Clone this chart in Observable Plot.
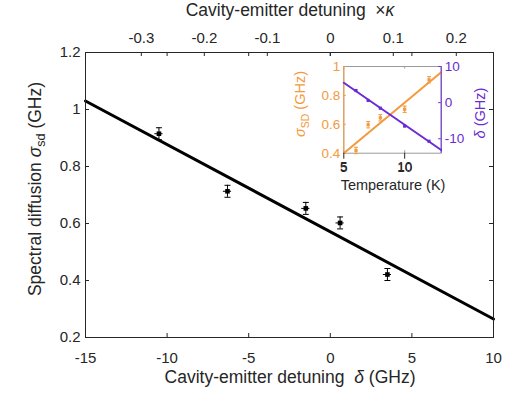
<!DOCTYPE html>
<html><head><meta charset="utf-8">
<script src="https://cdn.jsdelivr.net/npm/d3@7"></script>
<script src="https://cdn.jsdelivr.net/npm/@observablehq/plot@0.6"></script>
<style>
html,body{margin:0;padding:0;background:#fff;}
#wrap{position:relative;width:532px;height:394px;overflow:hidden;}
#wrap svg{position:absolute;max-width:none;}
</style></head><body><div id="wrap"></div>
<script>
// ---- data ----
const detuning = [-10.5, -6.3, -1.5, 0.6, 3.5];          // GHz
const sigmaSD = [0.915, 0.713, 0.653, 0.602, 0.421];      // GHz
const sigmaErr = [0.021, 0.021, 0.021, 0.021, 0.021];
const detuningErr = [0.25, 0.25, 0.25, 0.25, 0.25];
const fitDetuning = [-15, 10];
const fitSigma = [1.03, 0.265];
const kappaGHz = 38.6;
const xTicks = [-15, -10, -5, 0, 5, 10];
const yTicks = [0.2, 0.4, 0.6, 0.8, 1, 1.2];
const kappaTicks = [-0.3, -0.2, -0.1, 0, 0.1, 0.2];

const temperature = [6, 7, 8, 10, 12];                    // K
const sigmaT = [0.419, 0.597, 0.645, 0.704, 0.908];
const sigmaTErr = [0.022, 0.022, 0.022, 0.022, 0.022];
const deltaT = [3.35, 0.6, -1.55, -6.5, -10.7];
const fitTemp = [5, 13];
const fitSigmaT = [0.40, 0.96];
const fitDeltaT = [5.5, -13.1];
const tTicks = [5, 10];
const sTicks = [0.4, 0.6, 0.8, 1];
const dTicks = [-10, 0, 10];

// ---- style ----
const FONT = "'Liberation Sans', Arial, Helvetica, sans-serif";
const AX = "#262626";
const orange = "#F39A3C";
const purple = "#6A2BD3";
const wrap = document.getElementById("wrap");

const W = 532, H = 394, mL = 85, mR = 39, mT = 52, mB = 57;
const innerW = W - mL - mR, innerH = H - mT - mB, tk = 4;

const pts = detuning.map((x, i) => ({x, y: sigmaSD[i], ey: sigmaErr[i], ex: detuningErr[i]}));
const fit = fitDetuning.map((x, i) => ({x, y: fitSigma[i]}));
const kTicksGHz = kappaTicks.map(k => k * kappaGHz);
const capSym = {draw(ctx, size) { const r = Math.sqrt(size / Math.PI); ctx.moveTo(-r, 0); ctx.lineTo(r, 0); }};
const fmt = d => { const v = Math.round(d * 100) / 100; return String(v); };

const main = Plot.plot({
  width: W, height: H, marginLeft: mL, marginRight: mR, marginTop: mT, marginBottom: mB,
  style: {fontFamily: FONT, fontSize: "15px", color: AX, background: "transparent", overflow: "visible"},
  x: {domain: [-15, 10], label: null},
  y: {domain: [0.2, 1.2], label: null},
  marks: [
    Plot.ruleX(xTicks, {insetTop: innerH - tk, stroke: AX}),
    Plot.ruleX(xTicks, {insetBottom: innerH - tk, stroke: AX}),
    Plot.ruleX(kTicksGHz, {insetBottom: innerH - tk, stroke: AX}),
    Plot.ruleY(yTicks, {insetRight: innerW - tk, stroke: AX}),
    Plot.ruleY(yTicks, {insetLeft: innerW - tk, stroke: AX}),
    Plot.axisX(xTicks, {anchor: "bottom", tickSize: 0, tickPadding: 14.5, tickFormat: fmt, label: null, fill: AX}),
    Plot.axisX(kTicksGHz, {anchor: "top", tickSize: 0, tickPadding: 9.3, tickFormat: d => fmt(d / kappaGHz), label: null, fill: AX}),
    Plot.axisY(yTicks, {anchor: "left", tickSize: 0, tickPadding: 5, tickFormat: fmt, label: null, fill: AX}),
    Plot.line(fit, {x: "x", y: "y", stroke: "black", strokeWidth: 3}),
    Plot.ruleX(pts, {x: "x", y1: d => d.y - d.ey, y2: d => d.y + d.ey, stroke: "black", strokeWidth: 1}),
    Plot.ruleY(pts, {y: "y", x1: d => d.x - d.ex, x2: d => d.x + d.ex, stroke: "black", strokeWidth: 1}),
    Plot.dot(pts, {x: "x", y: d => d.y + d.ey, symbol: capSym, r: 3, stroke: "black", strokeWidth: 1}),
    Plot.dot(pts, {x: "x", y: d => d.y - d.ey, symbol: capSym, r: 3, stroke: "black", strokeWidth: 1}),
    Plot.dot(pts, {x: "x", y: "y", r: 2.6, fill: "black", symbol: "square"}),
    Plot.frame({stroke: AX})
  ]
});
main.style.left = "0px"; main.style.top = "0px";
wrap.appendChild(main);

function addText(svg, {x, y, rotate = 0, size, fill, parts}) {
  const t = d3.select(svg).append("text")
    .attr("transform", `translate(${x},${y}) rotate(${rotate})`)
    .attr("text-anchor", "middle").attr("font-size", size).attr("fill", fill)
    .attr("font-family", FONT);
  for (const p of parts) {
    const s = t.append("tspan").text(p.t);
    if (p.i) s.attr("font-style", "italic");
    if (p.sub) s.attr("font-size", size * 0.72).attr("dy", size * 0.25);
    if (p.unsub) s.attr("dy", -size * 0.25);
  }
}
addText(main, {x: 290, y: 382.5, size: 17.5, fill: AX, parts: [
  {t: "Cavity-emitter detuning  "}, {t: "δ", i: true}, {t: " (GHz)"}]});
addText(main, {x: 290, y: 16, size: 17.5, fill: AX, parts: [
  {t: "Cavity-emitter detuning  ×"}, {t: "κ", i: true}]});
addText(main, {x: 41, y: 189, rotate: -90, size: 17.5, fill: AX, parts: [
  {t: "Spectral diffusion "}, {t: "σ", i: true}, {t: "sd", sub: true}, {t: " (GHz)", unsub: true}]});

// ---- inset ----
const iL = 290, iT = 56, iW = 200, iH = 140;
const imL = 53.3, imT = 10, imR = 49.3, imB = 43.3;
const iInW = iW - imL - imR, iInH = iH - imT - imB, itk = 2.5;
const tPts = temperature.map((t, i) => ({t, s: sigmaT[i], e: sigmaTErr[i], d: deltaT[i]}));
const fitS = fitTemp.map((t, i) => ({t, s: fitSigmaT[i], d: fitDeltaT[i]}));
const GRAY = "#9a9a9a";

const insetA = Plot.plot({
  width: iW, height: iH, marginLeft: imL, marginRight: imR, marginTop: imT, marginBottom: imB,
  style: {fontFamily: FONT, fontSize: "13.5px", color: AX, background: "transparent", overflow: "visible"},
  x: {domain: [5, 13], label: null},
  y: {domain: [0.4, 1], label: null},
  marks: [
    Plot.frame({fill: "white", stroke: GRAY}),
    Plot.ruleX(tTicks, {insetTop: iInH - itk, stroke: GRAY}),
    Plot.ruleX(tTicks, {insetBottom: iInH - itk, stroke: GRAY}),
    Plot.ruleY(sTicks, {insetRight: iInW - itk, stroke: orange}),
    Plot.ruleX([fitTemp[0]], {stroke: orange}),
    Plot.axisX(tTicks, {anchor: "bottom", tickSize: 0, tickPadding: 8.5, label: null, fill: AX}),
    Plot.axisY(sTicks, {anchor: "left", tickSize: 0, tickPadding: 3.5, tickFormat: fmt, label: null, fill: orange}),
    Plot.line(fitS, {x: "t", y: "s", stroke: orange, strokeWidth: 2}),
    Plot.ruleX(tPts, {x: "t", y1: d => d.s - d.e, y2: d => d.s + d.e, stroke: orange, strokeWidth: 1}),
    Plot.dot(tPts, {x: "t", y: d => d.s + d.e, symbol: capSym, r: 2, stroke: orange, strokeWidth: 1}),
    Plot.dot(tPts, {x: "t", y: d => d.s - d.e, symbol: capSym, r: 2, stroke: orange, strokeWidth: 1}),
    Plot.dot(tPts, {x: "t", y: "s", r: 1.8, fill: orange, symbol: "square"})
  ]
});
insetA.style.left = iL + "px"; insetA.style.top = iT + "px";
wrap.appendChild(insetA);
addText(insetA, {x: 103, y: 134, size: 14.5, fill: AX, parts: [{t: "Temperature (K)"}]});
addText(insetA, {x: 15, y: 48, rotate: -90, size: 14.5, fill: orange, parts: [
  {t: "σ", i: true}, {t: "SD", sub: true}, {t: " (GHz)", unsub: true}]});

const insetB = Plot.plot({
  width: iW, height: iH, marginLeft: imL, marginRight: imR, marginTop: imT, marginBottom: imB,
  style: {fontFamily: FONT, fontSize: "13.5px", color: AX, background: "transparent", overflow: "visible"},
  x: {domain: [5, 13], label: null},
  y: {domain: [-14, 10], label: null},
  marks: [
    Plot.ruleY(dTicks, {insetLeft: iInW - itk, stroke: purple}),
    Plot.ruleX([fitTemp[1]], {stroke: purple}),
    Plot.axisY(dTicks, {anchor: "right", tickSize: 0, tickPadding: 3.5, tickFormat: fmt, label: null, fill: purple}),
    Plot.line(fitS, {x: "t", y: "d", stroke: purple, strokeWidth: 2}),
    Plot.dot(tPts, {x: "t", y: "d", r: 1.8, fill: purple, symbol: "square"})
  ]
});
insetB.style.left = iL + "px"; insetB.style.top = iT + "px";
wrap.appendChild(insetB);
addText(insetB, {x: 195, y: 57, rotate: -90, size: 14.5, fill: purple, parts: [
  {t: "δ", i: true}, {t: " (GHz)"}]});
</script></body></html>
